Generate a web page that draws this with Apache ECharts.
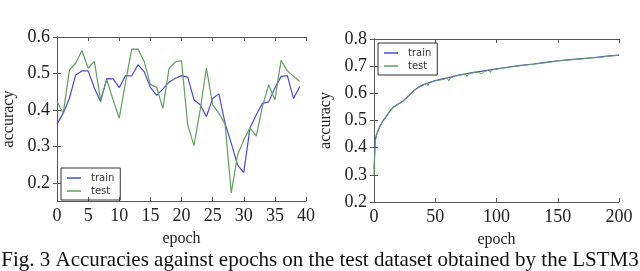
<!DOCTYPE html>
<html><head><meta charset="utf-8">
<script src="https://cdn.jsdelivr.net/npm/echarts@6/dist/echarts.min.js"></script>
<style>html,body{margin:0;padding:0;background:#fff}#c{width:640px;height:271px}</style>
</head><body><div id="c"></div>
<script>
// Left panel: epochs 0..39
const epochsL = [0,1,2,3,4,5,6,7,8,9,10,11,12,13,14,15,16,17,18,19,20,21,22,23,24,25,26,27,28,29,30,31,32,33,34,35,36,37,38,39];
const trainL = [0.361,0.391,0.432,0.496,0.507,0.507,0.460,0.423,0.486,0.485,0.461,0.494,0.493,0.524,0.505,0.462,0.440,0.457,0.476,0.487,0.494,0.490,0.428,0.414,0.382,0.431,0.444,0.363,0.308,0.249,0.228,0.350,0.386,0.418,0.422,0.460,0.492,0.494,0.431,0.464];
const testL = [0.423,0.391,0.510,0.528,0.563,0.515,0.533,0.428,0.483,0.428,0.377,0.475,0.567,0.567,0.533,0.470,0.462,0.404,0.513,0.532,0.535,0.359,0.302,0.400,0.515,0.414,0.391,0.361,0.172,0.276,0.317,0.351,0.328,0.409,0.469,0.428,0.536,0.507,0.492,0.478];
// Right panel: epochs 0..200 (read at selected epochs)
const epochsRtrain = [0,1,2,3,5,7,10,13,16,20,24,28,32,36,40,45,50,55,60,65,70,75,80,90,100,110,120,130,140,150,160,170,180,190,200];
const trainR = [0.32,0.43,0.447,0.46,0.48,0.497,0.515,0.535,0.55,0.562,0.573,0.59,0.608,0.622,0.631,0.64,0.647,0.652,0.657,0.663,0.668,0.672,0.676,0.683,0.69,0.697,0.703,0.708,0.714,0.72,0.724,0.728,0.732,0.737,0.741];
const epochsRtest = [0,1,2,3,5,7,10,13,16,20,24,28,32,36,40,43,44,45,50,55,60,61,62,65,70,75,76,77,80,85,88,90,94,95,96,100,104,105,106,110,118,119,120,130,139,140,141,150,160,170,180,184,185,186,190,194,195,196,200];
const testR = [0.30,0.42,0.445,0.458,0.478,0.495,0.513,0.533,0.549,0.56,0.572,0.588,0.607,0.62,0.63,0.637,0.628,0.638,0.646,0.65,0.656,0.645,0.655,0.662,0.667,0.67,0.662,0.671,0.675,0.678,0.672,0.681,0.685,0.677,0.686,0.689,0.692,0.685,0.693,0.696,0.701,0.694,0.702,0.707,0.712,0.706,0.713,0.719,0.723,0.727,0.731,0.732,0.725,0.733,0.736,0.738,0.731,0.739,0.74];
const yTicksL = [0.2,0.3,0.4,0.5,0.6];
const seriesNames = ['train','test'];
const caption = 'Fig. 3 Accuracies against epochs on the test dataset obtained by the LSTM3';

const BLUE = '#4b4bd0', GREEN = '#5f9f5f', FRAME = '#555';
const serif = 'Liberation Serif';
const pair = (xs, ys) => xs.map((x, i) => [x, ys[i]]);

function xAx(grid, min, max, interval, main) {
  return {
    type: 'value', gridIndex: grid, min, max, interval, position: main ? 'bottom' : 'top',
    name: main ? 'epoch' : '', nameLocation: 'middle', nameGap: 30,
    nameTextStyle: {fontFamily: serif, fontSize: 16, color: '#222'},
    axisLine: {show: true, lineStyle: {color: FRAME, width: 1}},
    axisTick: {show: true, inside: true, length: 4, lineStyle: {color: FRAME}},
    axisLabel: {show: main, fontFamily: serif, fontSize: 18, color: '#222', margin: 6},
    splitLine: {show: false}
  };
}
function yAx(grid, min, max, extra, main) {
  return Object.assign({
    type: 'value', gridIndex: grid, min, max, position: main ? 'left' : 'right',
    name: main ? 'accuracy' : '', nameLocation: 'middle', nameGap: main ? 40 : 0, nameRotate: 90,
    nameTextStyle: {fontFamily: serif, fontSize: 16, color: '#222'},
    axisLine: {show: true, lineStyle: {color: FRAME, width: 1}},
    axisTick: {show: true, inside: true, length: 4, lineStyle: {color: FRAME}},
    axisLabel: {show: main, fontFamily: serif, fontSize: 18, color: '#222', margin: 7,
      formatter: v => v.toFixed(1)},
    splitLine: {show: false}
  }, extra);
}
const chart = echarts.init(document.getElementById('c'), null, {renderer: 'canvas'});
const yl = (main) => {
  const a = yAx(0, 0.15, 0.6, {}, main);
  a.axisLabel.customValues = yTicksL;
  a.axisTick.customValues = yTicksL;
  return a;
};
const legendBase = {orient: 'vertical', data: seriesNames, itemGap: 3, itemWidth: 14, itemHeight: 1.5,
  icon: 'rect', borderColor: '#333', borderWidth: 1, padding: [5, 6, 4, 6], borderRadius: 0,
  textStyle: {fontFamily: 'DejaVu Sans', fontSize: 10, color: '#333', padding: [0, 0, 0, 5]}};
chart.setOption({
  animation: false,
  backgroundColor: '#fff',
  grid: [
    {left: 57, top: 37, width: 249, height: 164},
    {left: 374, top: 39, width: 245, height: 163}
  ],
  xAxis: [xAx(0, 0, 40, 5, true), xAx(0, 0, 40, 5, false), xAx(1, 0, 200, 50, true), xAx(1, 0, 200, 50, false)],
  yAxis: [yl(true), yl(false), yAx(1, 0.2, 0.8, {interval: 0.1}, true), yAx(1, 0.2, 0.8, {interval: 0.1}, false)],
  legend: [
    Object.assign({left: 61, top: 168}, legendBase),
    Object.assign({left: 378, top: 43}, legendBase)
  ],
  title: {text: caption, left: 'center', top: 245,
    textStyle: {fontFamily: serif, fontSize: 21, fontWeight: 'normal', color: '#111'}},
  series: [
    {name: seriesNames[0], type: 'line', xAxisIndex: 0, yAxisIndex: 0, data: pair(epochsL, trainL), showSymbol: false, lineStyle: {color: BLUE, width: 1.2}, itemStyle: {color: BLUE}},
    {name: seriesNames[1], type: 'line', xAxisIndex: 0, yAxisIndex: 0, data: pair(epochsL, testL), showSymbol: false, lineStyle: {color: GREEN, width: 1.2}, itemStyle: {color: GREEN}},
    {name: seriesNames[0], type: 'line', xAxisIndex: 2, yAxisIndex: 2, data: pair(epochsRtrain, trainR), showSymbol: false, lineStyle: {color: BLUE, width: 1.2}, itemStyle: {color: BLUE}},
    {name: seriesNames[1], type: 'line', xAxisIndex: 2, yAxisIndex: 2, data: pair(epochsRtest, testR), showSymbol: false, lineStyle: {color: GREEN, width: 1}, itemStyle: {color: GREEN}}
  ]
});
</script></body></html>
